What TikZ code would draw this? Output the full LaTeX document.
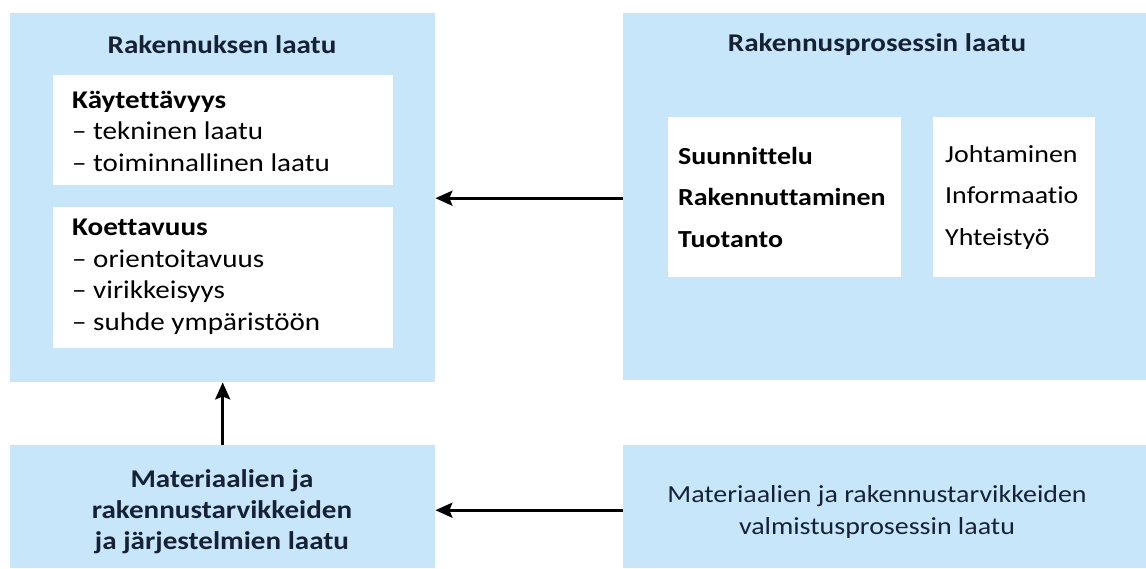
\documentclass[tikz,border=0pt]{standalone}
\usepackage{fontspec}
\setmainfont{Carlito}[Ligatures=NoCommon,FakeStretch=1.14]
\usetikzlibrary{arrows.meta,calc}
\definecolor{boxblue}{RGB}{199,230,250}
\definecolor{navy}{RGB}{22,34,52}
\begin{document}
\begin{tikzpicture}[x=1pt,y=-1pt,
  outer/.style={fill=boxblue,draw=none,rectangle,inner sep=0pt,anchor=north west},
  inner/.style={fill=white,draw=none,rectangle,inner sep=0pt,anchor=north west},
  title/.style={font=\fontsize{25.5}{30}\selectfont\bfseries,text=navy,inner sep=0pt},
  blk/.style={font=\fontsize{25.5}{31.5}\selectfont,text=black,align=left,inner sep=0pt,anchor=west},
  blkw/.style={font=\fontsize{24.5}{41.5}\selectfont,text=black,align=left,inner sep=0pt,anchor=west},
  arr/.style={line width=3pt,-{Stealth[length=17pt,width=15pt,inset=3pt]}}
]
\useasboundingbox (0,0) rectangle (1146,568);
% outer boxes
\node[outer,minimum width=425pt,minimum height=369pt] (A) at (10,13) {};
\node[outer,minimum width=523pt,minimum height=367pt] (B) at (623,13) {};
\node[outer,minimum width=425pt,minimum height=123pt] (C) at (10,445) {};
\node[outer,minimum width=523pt,minimum height=123pt] (D) at (623,445) {};
% inner white boxes
\node[inner,minimum width=340pt,minimum height=110pt] (A1) at (53,75) {};
\node[inner,minimum width=340pt,minimum height=141pt] (A2) at (53,207) {};
\node[inner,minimum width=233pt,minimum height=160pt] (B1) at (668,117) {};
\node[inner,minimum width=162pt,minimum height=160pt] (B2) at (933,117) {};
% titles
\node[title] (tA) at (222,45) {Rakennuksen laatu};
\node[title] (tB) at (877,45) {Rakennusprosessin laatu};
% texts
\node[blk] (tA1) at (72,131) {\textbf{Käytettävyys}\\– tekninen laatu\\– toiminnallinen laatu};
\node[blk] (tA2) at (72,277) {\textbf{Koettavuus}\\– orientoitavuus\\– virikkeisyys\\– suhde ympäristöön};
\node[blkw] (tB1) at (678,197) {\textbf{Suunnittelu}\\\textbf{Rakennuttaminen}\\\textbf{Tuotanto}};
\node[blkw] (tB2) at (945,197) {Johtaminen\\Informaatio\\Yhteistyö};
\node[font=\fontsize{25.5}{31}\selectfont\bfseries,text=navy,align=center,inner sep=0pt] (tC) at (222,512) {Materiaalien ja\\rakennustarvikkeiden\\ja järjestelmien laatu};
\node[font=\fontsize{24.5}{32}\selectfont,text=navy,align=center,inner sep=0pt] (tD) at (877,512) {Materiaalien ja rakennustarvikkeiden\\valmistusprosessin laatu};
% arrows
\draw[arr] ($(B.west)+(0,1.5)$) -- ($(B.west -| A.east)+(0,1.5)$);
\draw[arr] ($(D.west)+(0,3.5)$) -- ($(D.west -| C.east)+(0,3.5)$);
\draw[arr] (C.north) -- (A.south);
\end{tikzpicture}
\end{document}
